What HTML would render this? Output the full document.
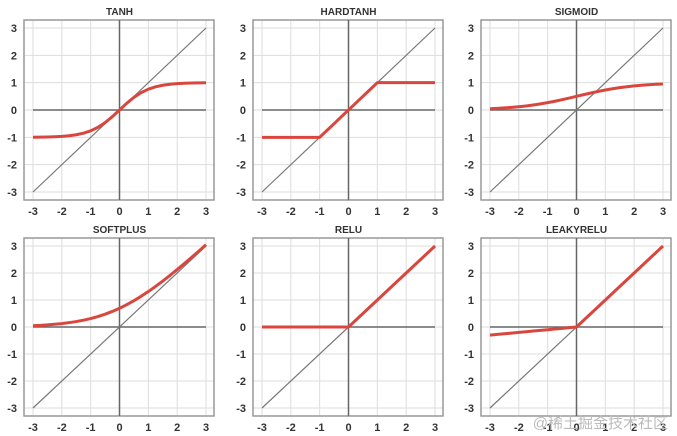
<!DOCTYPE html>
<html><head><meta charset="utf-8"><style>
body{margin:0;background:#fff;width:677px;height:436px;overflow:hidden}
svg{display:block}
text{font-family:"Liberation Sans",sans-serif;fill:#333}
</style></head><body>
<svg id="c" width="677" height="436"></svg>
<script>
const titles=["TANH","HARDTANH","SIGMOID","SOFTPLUS","RELU","LEAKYRELU"];
const ticks=[-3,-2,-1,0,1,2,3];
const xs=[-3,-2.75,-2.5,-2.25,-2,-1.75,-1.5,-1.25,-1,-0.75,-0.5,-0.25,0,0.25,0.5,0.75,1,1.25,1.5,1.75,2,2.25,2.5,2.75,3];
const leakySlope=[0.1];
const fns=[
 x=>Math.tanh(x),
 x=>Math.max(-1,Math.min(1,x)),
 x=>1/(1+Math.exp(-x)),
 x=>Math.log(1+Math.exp(x)),
 x=>Math.max(0,x),
 x=>x>0?x:leakySlope[0]*x
];
const colX=[[33,206],[262,435],[490,663]];
const rowY=[[28,192],[246,408]];
const NS="http://www.w3.org/2000/svg";
const svg=document.getElementById('c');
function mk(t,a,p){const e=document.createElementNS(NS,t);for(const k in a)e.setAttribute(k,a[k]);(p||svg).appendChild(e);return e;}
titles.forEach((title,i)=>{
 const r=Math.floor(i/3),c=i%3;
 const [x0,x1]=colX[c],[y0,y1]=rowY[r];
 const sx=v=>x0+(v+3)/6*(x1-x0), sy=v=>y1-(v+3)/6*(y1-y0);
 const g=mk('g',{});
 
 
 ticks.forEach(t=>{
  mk('line',{x1:sx(t),x2:sx(t),y1:y0-8,y2:y1+8,stroke:'#ddd','stroke-width':1},g);
  mk('line',{y1:sy(t),y2:sy(t),x1:x0-9,x2:x1+8,stroke:'#ddd','stroke-width':1},g);
  const tx=mk('text',{x:sx(t),y:y1+23,'text-anchor':'middle','font-size':11,'font-weight':'bold'},g);tx.textContent=t;
  
  
  const ty=mk('text',{x:x0-16,y:sy(t)+4,'text-anchor':'end','font-size':11,'font-weight':'bold'},g);ty.textContent=t;
  
  
 });
 const fr=mk('rect',{x:x0-9,y:y0-8,width:x1-x0+17,height:y1-y0+16,fill:'none',stroke:'#999','stroke-width':1.5},g);
 
 
 mk('line',{x1:sx(0),x2:sx(0),y1:y0-8,y2:y1+8,stroke:'#666','stroke-width':1.5},g);
 mk('line',{x1:sx(-3),x2:sx(3),y1:sy(0),y2:sy(0),stroke:'#666','stroke-width':1.5},g);
 const id=mk('line',{x1:sx(-3),y1:sy(-3),x2:sx(3),y2:sy(3),stroke:'#777','stroke-width':1.2},g);
 
 
 const pts=xs.map(x=>sx(x)+','+sy(fns[i](x))).join(' ');
 const pl=mk('polyline',{points:pts,fill:'none',stroke:'#d9463e','stroke-width':3,'stroke-linejoin':'round'},g);
 
 
 const tt=mk('text',{x:(x0+x1)/2,y:y0-13,'text-anchor':'middle','font-size':10,'font-weight':'bold',fill:'#444'},g);
 tt.textContent=title;
 
 
});
const wm=mk('text',{x:668,y:428,'text-anchor':'end','font-size':15,fill:'#bbb',style:'font-family:"Liberation Sans","Noto Sans CJK SC",sans-serif;fill:#bbb'});
wm.textContent="@稀土掘金技术社区";


</script>
</body></html>
